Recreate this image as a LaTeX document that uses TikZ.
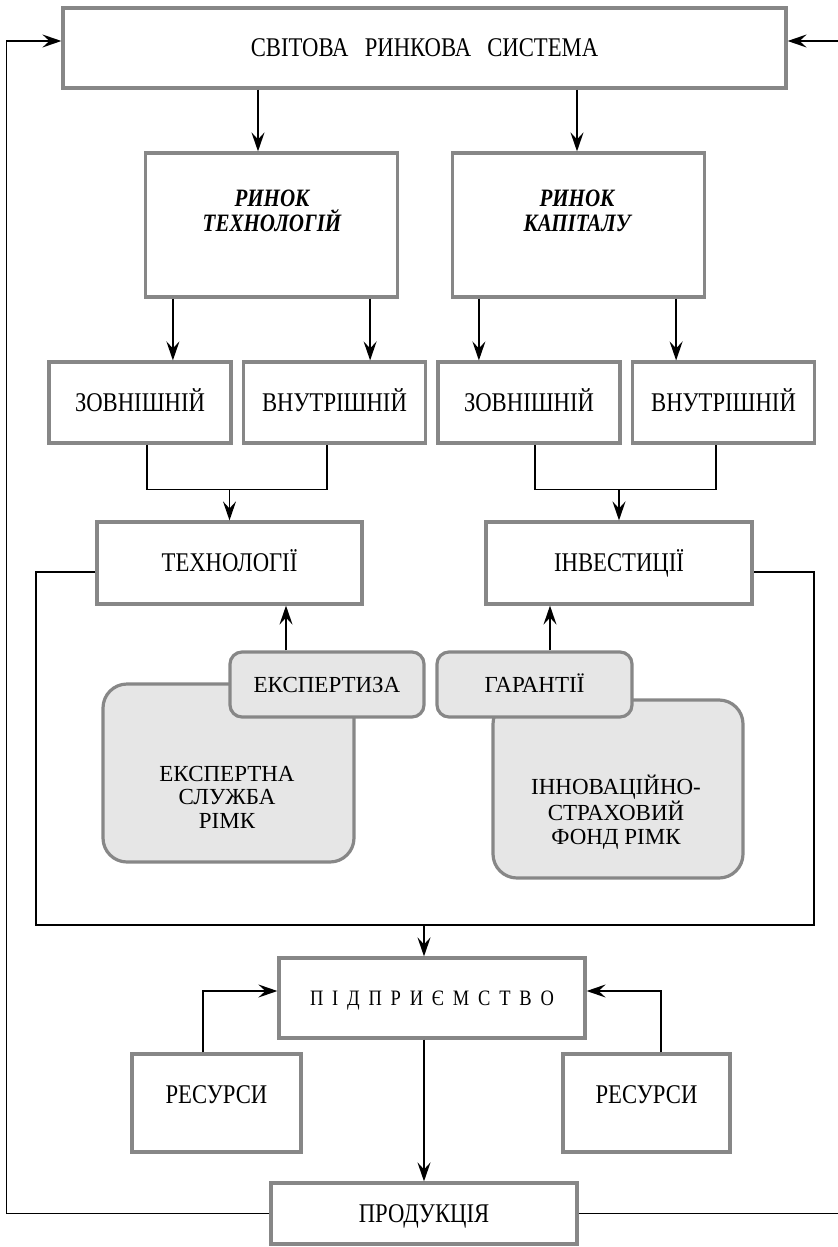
\documentclass[tikz,border=0pt]{standalone}
\usepackage{fontspec}
\setmainfont{Liberation Serif}
\newfontfamily\boxfont{Liberation Serif}[FakeStretch=0.84]
\usetikzlibrary{arrows.meta, calc}
\definecolor{bgray}{RGB}{135,135,135}
\definecolor{lgray}{RGB}{230,230,230}
\newcommand{\bxf}{\boxfont\fontsize{13.5pt}{14pt}\selectfont}
\newcommand{\grf}{\fontsize{11.5pt}{11.8pt}\selectfont}
\newcommand{\mkf}{\boxfont\bfseries\itshape\fontsize{12.5pt}{12.2pt}\selectfont}
\newcommand{\sprf}{\boxfont\fontsize{11pt}{12pt}\selectfont\spaceskip=4.4pt\relax}

\begin{document}
\begin{tikzpicture}[
      x=0.5pt, y=-0.5pt,
      box/.style={draw=bgray, line width=1.6pt, fill=white, inner sep=0pt, font=\bxf, text height=8.8pt, text depth=0pt},
      gbox/.style={draw=bgray, line width=1.6pt, fill=lgray, inner sep=0pt, font=\grf, text height=7.5pt, text depth=0pt},
      txt/.style={align=center, inner sep=0pt},
      wire/.style={line width=0.85pt},
      arr/.style={-{Stealth[length=9.5pt, width=6.5pt, inset=3.5pt]}, line width=0.85pt},
  ]
    \useasboundingbox (0,0) rectangle (837,1247);

    \node[box, minimum width=361.5pt, minimum height=40pt] (world) at (424.5,48) {СВІТОВА\hspace{0.6em}РИНКОВА\hspace{0.6em}СИСТЕМА};

    \node[box, minimum width=126pt, minimum height=72pt] (mtech) at (271.5,225) {};
    \node[txt, font=\mkf] (mtechtxt) at (272,211) {РИНОК\\ТЕХНОЛОГІЙ};
    \node[box, minimum width=126pt, minimum height=72pt] (mcap) at (578.5,225) {};
    \node[txt, font=\mkf] (mcaptxt) at (577,211) {РИНОК\\КАПІТАЛУ};

    \node[box, minimum width=91pt, minimum height=40.5pt] (tex) at (140,402.5) {ЗОВНІШНІЙ};
    \node[box, minimum width=91pt, minimum height=40.5pt] (tin) at (334.5,402.5) {ВНУТРІШНІЙ};
    \node[box, minimum width=91pt, minimum height=40.5pt] (cex) at (529,402.5) {ЗОВНІШНІЙ};
    \node[box, minimum width=91pt, minimum height=40.5pt] (cin) at (723.5,402.5) {ВНУТРІШНІЙ};

    \node[box, minimum width=132.5pt, minimum height=41pt] (tech) at (229.5,563) {ТЕХНОЛОГІЇ};
    \node[box, minimum width=133pt, minimum height=41pt] (inv) at (619,563) {ІНВЕСТИЦІЇ};

    % expert service and insurance fund
    \node[gbox, rounded corners=12pt, minimum width=125.5pt, minimum height=89pt] (esl) at (228.5,773) {};
    \node[txt, font=\grf] (esltxt) at (227,797) {ЕКСПЕРТНА\\СЛУЖБА\\РІМК};
    \node[gbox, rounded corners=6pt, minimum width=97pt, minimum height=32.5pt] (exz) at (327,684.5) {ЕКСПЕРТИЗА};
    \node[gbox, rounded corners=12pt, minimum width=125pt, minimum height=89pt] (ifd) at (618,789) {};
    \node[txt, font=\grf] (ifdtxt) at (616,812) {ІННОВАЦІЙНО-\\СТРАХОВИЙ\\ФОНД РІМК};
    \node[gbox, rounded corners=6pt, minimum width=97.5pt, minimum height=32.5pt] (gar) at (534.5,684.5) {ГАРАНТІЇ};

    \node[box, font=\sprf, text height=7.2pt, minimum width=153pt, minimum height=40pt] (firm) at (432,998) {П І Д П Р И Є М С Т В О};
    \node[box, text depth=8pt, minimum width=84.5pt, minimum height=49pt] (res1) at (216.5,1103) {РЕСУРСИ};
    \node[box, text depth=8pt, minimum width=83.5pt, minimum height=49pt] (res2) at (646.5,1103) {РЕСУРСИ};
    \node[box, minimum width=153pt, minimum height=30.5pt] (prod) at (424,1213.5) {ПРОДУКЦІЯ};

    % world system to markets
    \coordinate (wa) at ($(mtech.north)+(-13.5,0)$);
    \coordinate (wb) at ($(mcap.north)+(-1.5,0)$);
    \draw[arr] (world.south -| wa) -- (wa);
    \draw[arr] (world.south -| wb) -- (wb);

    % markets to sub-markets
    \coordinate (ta) at ($(mtech.south west)+(29,0)$);
    \coordinate (tb) at ($(mtech.south east)+(-29,0)$);
    \coordinate (ca) at ($(mcap.south west)+(28,0)$);
    \coordinate (cb) at ($(mcap.south east)+(-30,0)$);
    \draw[arr] (ta) -- (ta |- tex.north);
    \draw[arr] (tb) -- (tb |- tin.north);
    \draw[arr] (ca) -- (ca |- cex.north);
    \draw[arr] (cb) -- (cb |- cin.north);

    % sub-markets merge
    \coordinate (jt) at ($(tech.north)+(0,-31)$);
    \coordinate (ji) at ($(inv.north)+(0,-31)$);
    \draw[wire] ($(tex.south)+(7,0)$) |- (jt) -| ($(tin.south)+(-7.5,0)$);
    \draw[wire] ($(cex.south)+(6,0)$) |- (ji) -| ($(cin.south)+(-7.5,0)$);
    \draw[arr] (jt) -- (tech.north);
    \draw[arr] (ji) -- (inv.north);

    \coordinate (ea) at ($(exz.north)+(-41,0)$);
    \coordinate (ga) at ($(gar.north)+(15.5,0)$);
    \draw[arr] (ea) -- (ea |- tech.south);
    \draw[arr] (ga) -- (ga |- inv.south);

    % frame round the markets
    \coordinate (fl) at (36,925);
    \coordinate (fr) at (814,925);
    \draw[wire] ($(tech.west)+(0,9)$) -| (fl) -- (fr) |- ($(inv.east)+(0,9)$);
    \draw[arr] (fl -| prod.north) -- (firm.north -| prod.north);

    % enterprise
    \draw[arr] ($(res1.north)+(-13.5,0)$) |- ($(firm.west)+(0,-7)$);
    \draw[arr] ($(res2.north)+(14.5,0)$) |- ($(firm.east)+(0,-7)$);
    \draw[arr] (firm.south -| prod.north) -- (prod.north);

    % feedback to world system
    \draw[arr] (prod.west) -| ($(world.west)+(-55,-7)$) -- ($(world.west)+(0,-7)$);
    \draw[arr] (prod.east) -| ($(world.east)+(54,-7)$) -- ($(world.east)+(0,-7)$);
  \end{tikzpicture}
\end{document}
